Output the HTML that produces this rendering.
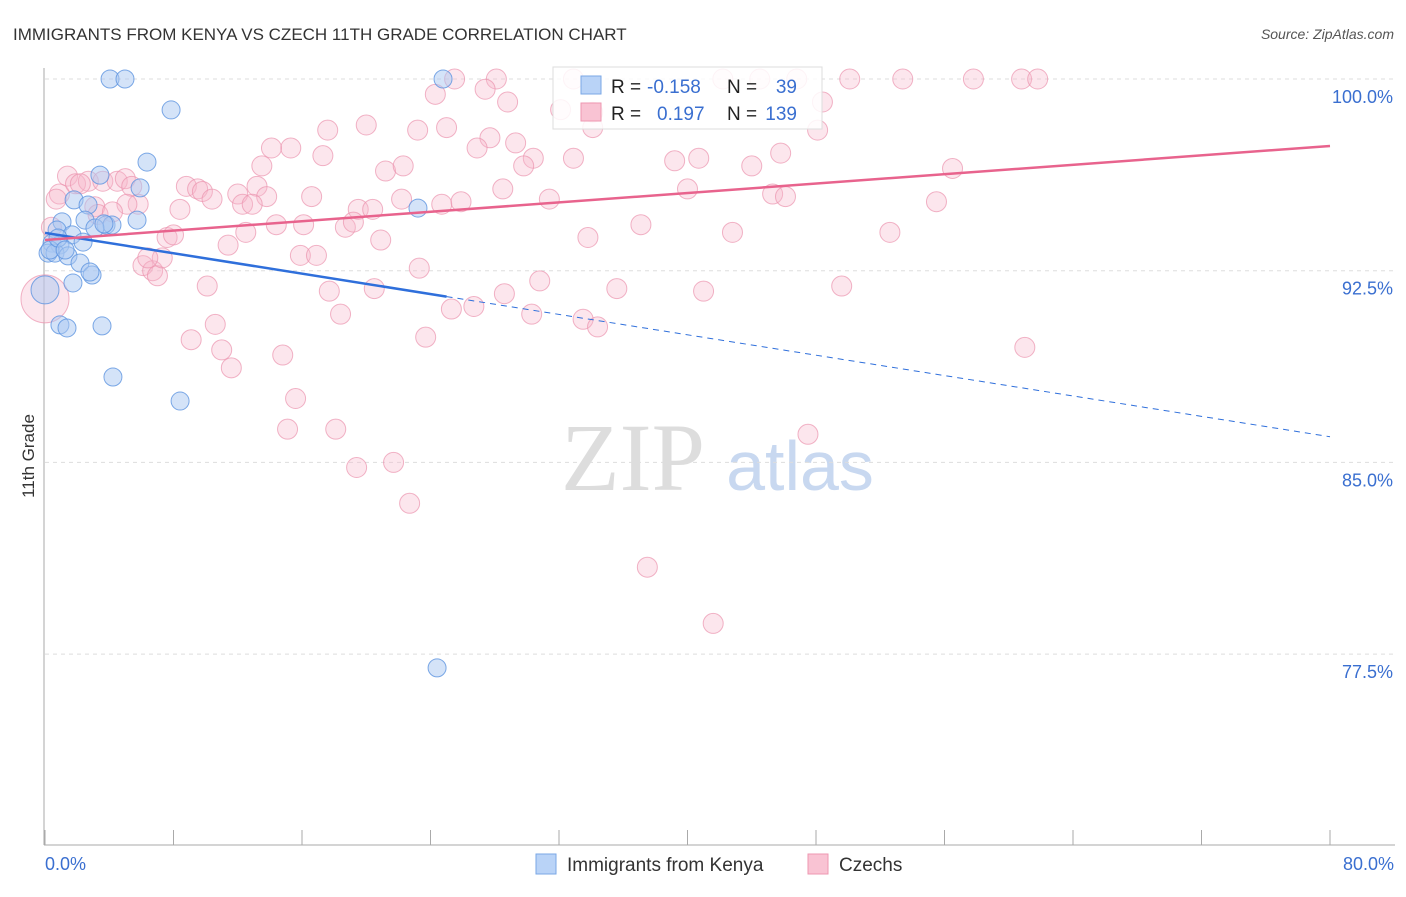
<!DOCTYPE html>
<html><head><meta charset="utf-8"><style>
body{margin:0;background:#fff;font-family:"Liberation Sans",sans-serif}
</style></head><body>
<svg id="chart" width="1406" height="892" xmlns="http://www.w3.org/2000/svg" font-family="Liberation Sans, sans-serif">
<text x="13" y="40" font-size="17" fill="#333">IMMIGRANTS FROM KENYA VS CZECH 11TH GRADE CORRELATION CHART</text>
<text x="1394" y="39" font-size="14" fill="#555" text-anchor="end" font-style="italic">Source: ZipAtlas.com</text>
<text transform="translate(34,456) rotate(-90)" font-size="17" fill="#333" text-anchor="middle">11th Grade</text>
<g><text x="633" y="490" font-size="96" fill="#ddd" text-anchor="middle" font-family="Liberation Serif, serif">ZIP</text><text x="800" y="490" font-size="70" fill="#c8d8f0" text-anchor="middle">atlas</text></g>
<g id="grid"></g><g id="axes"></g><g id="pts"></g><g id="lines"></g>
<g>
<rect x="553" y="67" width="269" height="62" fill="#fff" fill-opacity="0.85" stroke="#ddd"/>
<rect x="581" y="76" width="20" height="18" fill="#b9d3f7" stroke="#7aa7e6"/>
<rect x="581" y="103" width="20" height="18" fill="#f9c3d3" stroke="#ee97b0"/>
<text x="611" y="93" font-size="19" fill="#222">R =</text><text x="647" y="93" font-size="19" fill="#3a6fd0">-0.158</text>
<text x="727" y="93" font-size="19" fill="#222">N =</text><text x="797" y="93" font-size="19" fill="#3a6fd0" text-anchor="end">39</text>
<text x="611" y="120" font-size="19" fill="#222">R =</text><text x="657" y="120" font-size="19" fill="#3a6fd0">0.197</text>
<text x="727" y="120" font-size="19" fill="#222">N =</text><text x="797" y="120" font-size="19" fill="#3a6fd0" text-anchor="end">139</text>
</g>
<g>
<rect x="536" y="854" width="20" height="20" fill="#b9d3f7" stroke="#7aa7e6"/>
<text x="567" y="871" font-size="19" fill="#333">Immigrants from Kenya</text>
<rect x="808" y="854" width="20" height="20" fill="#f9c3d3" stroke="#ee97b0"/>
<text x="839" y="871" font-size="19" fill="#333">Czechs</text>
</g>
</svg>
<script>
const yTicks=[100,92.5,85,77.5];
const yTickLabels=["100.0%","92.5%","85.0%","77.5%"];
const xTickLabels=["0.0%","80.0%"];
const kenyaX=[4.05,4.98,7.85,6.35,3.42,5.92,1.81,2.68,1.06,2.49,5.73,3.80,4.17,0.75,1.68,3.11,0.44,0.93,2.37,0.19,0.62,1.43,2.18,2.93,1.74,0.93,1.37,3.55,4.23,8.41,23.22,24.78,24.41,0,0.31,0.81,2.80,1.25,3.67];
const kenyaY=[100,100,98.79,96.75,96.24,95.74,95.27,95.07,94.41,94.48,94.48,94.29,94.29,94.09,93.90,94.17,93.58,93.51,93.62,93.19,93.19,93.08,92.80,92.33,92.02,90.38,90.26,90.34,88.34,87.40,94.95,100,76.96,91.75,93.31,93.78,92.45,93.31,94.33];
const czechX=[25.5,28.1,32.9,42.2,44.5,46.8,50.1,53.4,57.8,60.8,61.8,24.3,27.4,28.8,48.4,32.1,34.1,34.1,17.6,20.0,23.2,25.0,27.7,29.3,26.9,48.1,45.8,15.3,14.1,17.3,32.9,30.4,29.8,39.2,40.7,44.0,56.5,13.5,21.2,22.3,1.4,0.9,1.9,2.7,3.6,2.2,4.5,5.0,5.4,3.1,5.8,5.1,3.3,4.2,0.7,0.4,8.8,9.5,9.8,10.4,12.0,13.2,13.8,12.3,12.9,8.4,16.6,19.5,20.4,22.2,24.7,25.9,28.5,31.4,40.0,45.3,46.1,55.5,7.6,8.0,11.4,12.5,14.4,16.1,18.7,19.2,20.9,33.8,37.1,42.8,52.6,6.1,6.7,7.0,7.3,6.4,15.9,16.9,23.3,10.1,17.7,20.5,28.6,30.8,35.6,41.0,49.6,10.6,9.1,11.0,11.6,14.8,18.4,25.3,26.7,30.3,33.5,34.4,23.7,61.0,15.6,15.1,18.1,19.4,21.7,22.7,37.5,41.6,47.5,0];
const czechY=[100,100,100,100,100,100,100,100,100,100,100,99.4,99.6,99.1,99.1,98.8,98.7,98.1,98.0,98.2,98.0,98.1,97.7,97.5,97.3,98.0,97.1,97.3,97.3,97.0,96.9,96.9,96.6,96.8,96.9,96.6,96.5,96.6,96.4,96.6,96.2,95.5,95.9,96.0,96.0,95.9,96.0,96.1,95.8,95.0,95.1,95.1,94.7,94.8,95.3,94.2,95.8,95.7,95.6,95.3,95.5,95.8,95.4,95.1,95.1,94.9,95.4,94.9,94.9,95.3,95.1,95.2,95.7,95.3,95.7,95.5,95.4,95.2,93.8,93.9,93.5,94.0,94.3,94.3,94.2,94.4,93.7,93.8,94.3,94.0,94.0,92.7,92.5,92.3,93.0,93.0,93.1,93.1,92.6,91.9,91.7,91.8,91.6,92.1,91.8,91.7,91.9,90.4,89.8,89.4,88.7,89.2,90.8,91.0,91.1,90.8,90.6,90.3,89.9,89.5,87.5,86.3,86.3,84.8,85.0,83.4,80.9,78.7,86.1,91.4];
const kenyaTrend=[93.98,-0.0997]; // intercept, slope
const czechTrend=[93.7,0.046];
const NS="http://www.w3.org/2000/svg";
const X=v=>45+v/80*1285, Y=v=>79+(100-v)/7.5*191.7;
function mk(t,a,p){const e=document.createElementNS(NS,t);for(const k in a)e.setAttribute(k,a[k]);p.appendChild(e);return e;}
const grid=document.getElementById('grid'),axes=document.getElementById('axes'),pts=document.getElementById('pts'),lines=document.getElementById('lines');
yTicks.forEach((t,i)=>{
 const l=mk('line',{x1:45,x2:1395,y1:Y(t),y2:Y(t),stroke:'#ddd','stroke-dasharray':'4,4'},grid);
 
 
 const tx=mk('text',{x:1393,y:Y(t)+24,'font-size':18,fill:'#3a6fd0','text-anchor':'end'},axes);tx.textContent=yTickLabels[i];
 
 
});
const ya=mk('line',{x1:44,x2:44,y1:68,y2:845,stroke:'#aaa'},axes);


const xa=mk('line',{x1:44,x2:1395,y1:845,y2:845,stroke:'#aaa'},axes);


for(let i=0;i<=10;i++){const tk=mk('line',{x1:X(i*8),x2:X(i*8),y1:830,y2:845,stroke:'#aaa'},axes);
 
 }
[[0,'start',45],[80,'end',1394]].forEach((d,i)=>{const t=mk('text',{x:d[2],y:870,'font-size':18,fill:'#3a6fd0','text-anchor':d[1]},axes);t.textContent=xTickLabels[i];
 
 });
czechX.forEach((x,i)=>{const big=i===czechX.length-1;
 const c=mk('circle',{cx:X(x),cy:Y(czechY[i]),r:big?24:10,fill:'#f7b8cb','fill-opacity':0.35,stroke:'#eb93ae','stroke-opacity':0.7},pts);
 
 });
kenyaX.forEach((x,i)=>{const big=i===33;
 const c=mk('circle',{cx:X(x),cy:Y(kenyaY[i]),r:big?14:9,fill:'#a9c8f2','fill-opacity':0.5,stroke:'#5d93e0','stroke-opacity':0.8},pts);
 
 });
const f=(t,x)=>t[0]+t[1]*x;
let l=mk('line',{x1:X(0),y1:Y(f(kenyaTrend,0)),x2:X(25),y2:Y(f(kenyaTrend,25)),stroke:'#2f6fdb','stroke-width':2.5},lines);


l=mk('line',{x1:X(25),y1:Y(f(kenyaTrend,25)),x2:X(80),y2:Y(f(kenyaTrend,80)),stroke:'#2f6fdb','stroke-width':1,'stroke-dasharray':'6,5'},lines);


l=mk('line',{x1:X(0),y1:Y(f(czechTrend,0)),x2:X(80),y2:Y(f(czechTrend,80)),stroke:'#e8638d','stroke-width':2.5},lines);


</script>
</body></html>
